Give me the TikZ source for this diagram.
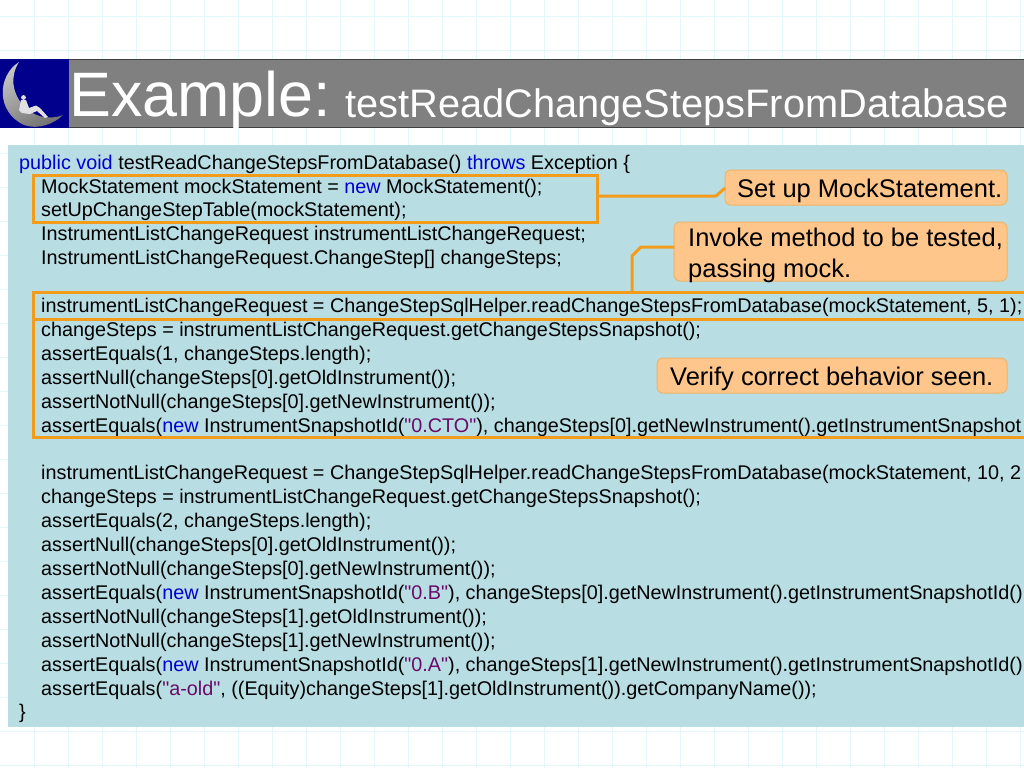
\documentclass[tikz,border=0pt]{standalone}
\usepackage{fontspec}
\setmainfont{Liberation Sans}[Ligatures=TeXOff]
\definecolor{gridc}{HTML}{E3F8FA}
\definecolor{panelc}{HTML}{B8DDE2}
\definecolor{barc}{HTML}{808080}
\definecolor{orangec}{HTML}{F39C1C}
\definecolor{calloutc}{HTML}{FFC68C}
\definecolor{calloutb}{HTML}{EFB566}
\definecolor{kw}{HTML}{0000D0}
\definecolor{strc}{HTML}{6A0A6A}
\definecolor{navy}{HTML}{00008C}
\tikzset{
  x=1pt,y=-1pt,
  codeline/.style={anchor=base west,inner sep=0pt,yshift=-0.6pt,font=\fontsize{19.8}{20}\selectfont,text=black},
  highlight/.style={draw=orangec,line width=3pt,fill=none},
  callout/.style={draw=calloutb,line width=1pt,fill=calloutc,rounded corners=6pt},
  calltext/.style={anchor=base west,inner sep=0pt,font=\fontsize{25.5}{26}\selectfont,text=black},
  leader/.style={draw=orangec,line width=3pt,line join=round},
}
\newcommand{\kwd}[1]{\textcolor{kw}{#1}}
\newcommand{\strg}[1]{\textcolor{strc}{#1}}
\begin{document}
\begin{tikzpicture}
\useasboundingbox (0,0) rectangle (1024,768);
\clip (0,0) rectangle (1024,768);
\fill[white] (0,0) rectangle (1024,768);
% faint grid
\foreach \gx in {34,68,...,1020} \draw[gridc,line width=1pt] (\gx,0) -- (\gx,768);
\foreach \gy in {17,51,...,765} \draw[gridc,line width=1pt] (0,\gy) -- (1024,\gy);
% title bar
\fill[barc] (69,59) rectangle (1024,128);
\draw[black!75,line width=1pt] (69,59.5) -- (1024,59.5);
\draw[black!75,line width=1pt] (69,127.5) -- (1024,127.5);
% logo
\fill[navy] (0,59) rectangle (69,128);
\shade[left color=black!22,right color=black!55,shading angle=30]
  (19,62) .. controls (-3,76) and (-4,112) .. (24,125)
  .. controls (38,130) and (54,124) .. (63,115)
  .. controls (48,121) and (32,116) .. (23,105)
  .. controls (12,93) and (10,76) .. (19,62) -- cycle;
\fill[black!12] (23.5,97.5) circle (2.4);
\fill[black!12] (21,100) -- (26,100) -- (29,108) -- (36,105.5) -- (40,108) -- (48,117) -- (45,118) -- (37,111) -- (30,114) -- (22,113) -- (19,110) -- cycle;
% code panel
\fill[panelc] (8,145) rectangle (1024,727);
% code text
\node[codeline] (l1) at (19,169) {\kwd{public void} testReadChangeStepsFromDatabase() \kwd{throws} Exception \{};
\node[codeline] (l2) at (41,193) {MockStatement mockStatement = \kwd{new} MockStatement();};
\node[codeline] (l3) at (41,216) {setUpChangeStepTable(mockStatement);};
\node[codeline] (l4) at (41,240) {InstrumentListChangeRequest instrumentListChangeRequest;};
\node[codeline] (l5) at (41,264) {InstrumentListChangeRequest.ChangeStep[] changeSteps;};
\node[codeline] (l6) at (41,312) {instrumentListChangeRequest = ChangeStepSqlHelper.readChangeStepsFromDatabase(mockStatement, 5, 1);};
\node[codeline] (l7) at (41,336) {changeSteps = instrumentListChangeRequest.getChangeStepsSnapshot();};
\node[codeline] (l8) at (41,360) {assertEquals(1, changeSteps.length);};
\node[codeline] (l9) at (41,384) {assertNull(changeSteps[0].getOldInstrument());};
\node[codeline] (l10) at (41,408) {assertNotNull(changeSteps[0].getNewInstrument());};
\node[codeline] (l11) at (41,432) {assertEquals(\kwd{new} InstrumentSnapshotId(\strg{"0.CTO"}), changeSteps[0].getNewInstrument().getInstrumentSnapshot};
\node[codeline] (l12) at (41,479) {instrumentListChangeRequest = ChangeStepSqlHelper.readChangeStepsFromDatabase(mockStatement, 10, 2};
\node[codeline] (l13) at (41,503) {changeSteps = instrumentListChangeRequest.getChangeStepsSnapshot();};
\node[codeline] (l14) at (41,527) {assertEquals(2, changeSteps.length);};
\node[codeline] (l15) at (41,551) {assertNull(changeSteps[0].getOldInstrument());};
\node[codeline] (l16) at (41,575) {assertNotNull(changeSteps[0].getNewInstrument());};
\node[codeline] (l17) at (41,599) {assertEquals(\kwd{new} InstrumentSnapshotId(\strg{"0.B"}), changeSteps[0].getNewInstrument().getInstrumentSnapshotId()};
\node[codeline] (l18) at (41,623) {assertNotNull(changeSteps[1].getOldInstrument());};
\node[codeline] (l19) at (41,647) {assertNotNull(changeSteps[1].getNewInstrument());};
\node[codeline] (l20) at (41,671) {assertEquals(\kwd{new} InstrumentSnapshotId(\strg{"0.A"}), changeSteps[1].getNewInstrument().getInstrumentSnapshotId()};
\node[codeline] (l21) at (41,695) {assertEquals(\strg{"a-old"}, ((Equity)changeSteps[1].getOldInstrument()).getCompanyName());};
\node[codeline] (l22) at (19,718) {\}};
% title
\node[anchor=base west,inner sep=0pt,text=white,font=\fontsize{62.8}{63}\selectfont] (title) at (69,116) {Example:};
\node[anchor=base west,inner sep=0pt,text=white,font=\fontsize{39.8}{40}\selectfont] (subtitle) at (345,117) {testReadChangeStepsFromDatabase};
% highlight boxes
\coordinate (h1a) at (33.5,175.5);
\coordinate (h1b) at (597,222);
\draw[highlight] (h1a) rectangle (h1b);
\coordinate (h2a) at (33.5,292.5);
\coordinate (h2b) at (1032,319);
\draw[highlight] (h2a) rectangle (h2b);
\coordinate (h3a) at (33.5,319);
\coordinate (h3b) at (1032,437);
\draw[highlight] (h3a) rectangle (h3b);
% callouts
\draw[callout] (725,170) rectangle (1007,205);
\coordinate (c1) at (725,188);
\node[calltext] (t1) at (737,197) {Set up MockStatement.};
\draw[callout] (674,222) rectangle (1007,281);
\coordinate (c2) at (674,247);
\node[calltext] (t2) at (688,246) {Invoke method to be tested,};
\node[calltext] (t2b) at (688,277) {passing mock.};
\draw[callout] (657,358) rectangle (1007,393);
\node[calltext] (t3) at (670,385) {Verify correct behavior seen.};
% leaders
\coordinate (k1) at (597,196);
\coordinate (k2) at (632,292);
\draw[leader] (k1) -- (716,196) -- (c1);
\draw[leader] (c2) -- (641,247) -- (632,256) -- (k2);
\end{tikzpicture}
\end{document}
